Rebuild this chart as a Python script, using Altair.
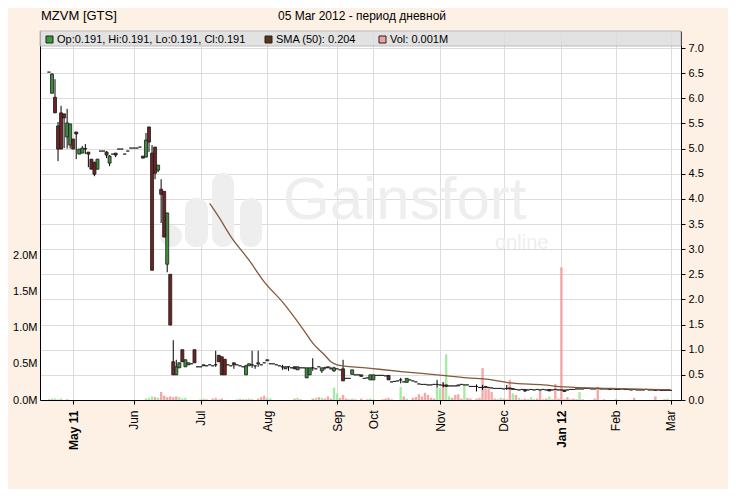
import altair as alt
import pandas as pd

# ---------------- data ----------------
opens = [
 6.52,6.10,6.02,5.45,5.71,5.69,5.23,5.07,5.19,5.33,
 4.89,4.91,5.00,4.93,4.79,4.73,4.59,4.95,4.95,4.93,
 4.71,4.89,4.91,4.99,4.99,4.89,4.95,5.01,5.01,5.01,
 5.03,4.85,4.83,5.43,4.91,5.03,4.57,4.19,4.15,2.70,
 2.50,0.76,0.50,0.64,1.00,0.66,0.70,0.72,1.00,0.66,
 0.66,0.70,0.68,0.70,0.68,0.70,0.89,0.86,0.81,0.70,
 0.68,0.74,0.70,0.68,0.66,0.50,0.68,0.70,0.68,0.72,
 0.70,0.74,0.78,0.72,0.72,0.70,0.68,0.66,0.62,0.66,
 0.64,0.66,0.60,0.64,0.64,0.44,0.50,0.64,0.62,0.66,
 0.58,0.64,0.66,0.62,0.58,0.62,0.60,0.62,0.43,0.43,
 0.51,0.50,0.50,0.50,0.43,0.44,0.40,0.40,0.49,0.49,
 0.49,0.48,0.49,0.36,0.37,0.38,0.40,0.36,0.35,0.40,
 0.38,0.36,0.32,0.31,0.31,0.30,0.30,0.31,0.31,0.30,
 0.29,0.30,0.28,0.28,0.28,0.28,0.31,0.30,0.30,0.27,
 0.27,0.27,0.25,0.25,0.27,0.25,0.24,0.23,0.23,0.23,
 0.22,0.23,0.24,0.21,0.21,0.20,0.21,0.21,0.20,0.21,
 0.20,0.21,0.20,0.21,0.20,0.21,0.20,0.21,0.20,0.20,
 0.20,0.20,0.21,0.21,0.22,0.22,0.22,0.23,0.23,0.22,
 0.22,0.23,0.22,0.22,0.22,0.21,0.22,0.21,0.21,0.22,
 0.21,0.21,0.20,0.21,0.20,0.20,0.20,0.21,0.20,0.20,
 0.19,0.20,0.19,0.19,0.19,0.191]
highs = [
 6.52,6.50,6.38,5.53,5.85,5.69,5.79,5.49,5.19,5.33,
 4.99,5.05,5.09,4.93,4.79,4.73,4.79,4.95,4.95,4.95,
 4.87,4.89,4.91,4.99,4.99,4.89,4.95,5.01,5.01,5.01,
 5.03,4.85,5.31,5.43,5.07,5.03,4.67,4.39,4.15,3.72,
 2.50,1.19,0.80,0.74,1.00,0.80,0.74,0.72,1.00,0.66,
 0.66,0.70,0.68,0.70,0.68,0.98,0.89,0.86,0.81,0.70,
 0.68,0.74,0.70,0.68,0.66,0.70,0.72,0.98,0.68,0.98,
 0.70,0.74,0.80,0.72,0.72,0.70,0.68,0.70,0.66,0.66,
 0.64,0.66,0.66,0.64,0.64,0.64,0.64,0.83,0.62,0.66,
 0.64,0.66,0.66,0.66,0.66,0.62,0.60,0.80,0.43,0.43,
 0.60,0.50,0.50,0.50,0.43,0.44,0.50,0.50,0.49,0.49,
 0.49,0.48,0.49,0.36,0.37,0.38,0.44,0.36,0.43,0.40,
 0.38,0.36,0.32,0.31,0.31,0.30,0.30,0.31,0.40,0.30,
 0.35,0.30,0.28,0.28,0.28,0.30,0.31,0.30,0.30,0.27,
 0.27,0.31,0.25,0.30,0.27,0.25,0.24,0.23,0.23,0.23,
 0.22,0.30,0.24,0.23,0.21,0.20,0.21,0.21,0.20,0.21,
 0.20,0.21,0.20,0.21,0.20,0.21,0.20,0.21,0.20,0.20,
 0.20,0.20,0.21,0.21,0.22,0.22,0.22,0.23,0.23,0.22,
 0.22,0.23,0.22,0.22,0.22,0.21,0.22,0.21,0.21,0.22,
 0.21,0.21,0.20,0.21,0.20,0.20,0.20,0.21,0.20,0.20,
 0.19,0.20,0.19,0.19,0.19,0.191]
lows = [
 6.52,6.10,5.71,4.75,4.99,5.01,5.00,5.00,4.99,4.79,
 4.89,4.91,4.89,4.63,4.59,4.45,4.59,4.95,4.95,4.81,
 4.65,4.89,4.83,4.99,4.99,4.89,4.95,5.01,5.01,5.01,
 5.03,4.81,4.83,4.93,2.58,4.39,4.53,3.52,3.24,2.54,
 1.49,0.50,0.50,0.64,0.76,0.66,0.70,0.72,0.74,0.66,
 0.66,0.68,0.68,0.70,0.68,0.66,0.76,0.50,0.50,0.70,
 0.68,0.62,0.70,0.68,0.66,0.50,0.68,0.64,0.62,0.66,
 0.70,0.74,0.78,0.72,0.72,0.70,0.68,0.60,0.62,0.58,
 0.64,0.62,0.60,0.64,0.64,0.44,0.50,0.58,0.62,0.66,
 0.54,0.60,0.64,0.62,0.56,0.62,0.60,0.38,0.43,0.43,
 0.51,0.50,0.50,0.47,0.43,0.44,0.40,0.40,0.49,0.49,
 0.49,0.48,0.40,0.36,0.37,0.38,0.33,0.36,0.35,0.40,
 0.38,0.36,0.32,0.31,0.31,0.30,0.30,0.31,0.25,0.30,
 0.25,0.27,0.28,0.28,0.28,0.28,0.31,0.30,0.30,0.27,
 0.27,0.17,0.25,0.20,0.25,0.25,0.24,0.23,0.23,0.23,
 0.22,0.20,0.22,0.21,0.21,0.20,0.21,0.16,0.20,0.21,
 0.20,0.21,0.20,0.21,0.20,0.18,0.20,0.21,0.20,0.20,
 0.17,0.20,0.21,0.21,0.22,0.22,0.22,0.23,0.23,0.22,
 0.22,0.23,0.22,0.22,0.22,0.21,0.22,0.21,0.21,0.22,
 0.21,0.21,0.20,0.21,0.20,0.20,0.20,0.21,0.20,0.20,
 0.19,0.20,0.19,0.19,0.19,0.191]
closes = [
 6.52,6.48,5.71,4.99,4.99,5.61,5.51,5.49,4.99,5.29,
 4.99,5.01,4.99,4.89,4.59,4.49,4.79,4.95,4.95,4.87,
 4.85,4.89,4.87,4.99,4.99,4.89,4.95,5.01,5.01,5.01,
 5.03,4.81,5.17,5.13,2.58,4.51,4.67,4.09,3.24,3.72,
 1.49,0.50,0.66,0.74,0.76,0.80,0.74,0.72,0.74,0.66,
 0.66,0.68,0.68,0.70,0.68,0.70,0.76,0.50,0.50,0.70,
 0.68,0.70,0.70,0.68,0.66,0.68,0.72,0.70,0.68,0.74,
 0.70,0.74,0.80,0.72,0.72,0.70,0.68,0.66,0.66,0.66,
 0.64,0.62,0.66,0.64,0.64,0.64,0.64,0.64,0.62,0.66,
 0.64,0.64,0.64,0.62,0.64,0.62,0.60,0.38,0.43,0.43,
 0.60,0.50,0.50,0.47,0.43,0.44,0.50,0.50,0.49,0.49,
 0.49,0.48,0.40,0.36,0.37,0.38,0.40,0.36,0.43,0.40,
 0.38,0.36,0.32,0.31,0.31,0.30,0.30,0.31,0.31,0.30,
 0.29,0.27,0.28,0.28,0.28,0.30,0.31,0.30,0.30,0.27,
 0.27,0.27,0.25,0.25,0.25,0.25,0.24,0.23,0.23,0.23,
 0.22,0.23,0.22,0.23,0.21,0.20,0.21,0.18,0.20,0.21,
 0.20,0.21,0.20,0.21,0.20,0.18,0.20,0.21,0.20,0.20,
 0.17,0.20,0.21,0.21,0.22,0.22,0.22,0.23,0.23,0.22,
 0.22,0.23,0.22,0.22,0.22,0.21,0.22,0.21,0.21,0.22,
 0.21,0.21,0.20,0.21,0.20,0.20,0.20,0.21,0.20,0.20,
 0.19,0.20,0.19,0.19,0.19,0.191]
volumes = [
 0.01,0.02,0.02,0.01,0.02,0.00,0.01,0.00,0.00,0.00,
 0.00,0.00,0.00,0.00,0.00,0.00,0.00,0.00,0.00,0.00,
 0.00,0.00,0.00,0.00,0.00,0.00,0.00,0.00,0.00,0.00,
 0.00,0.00,0.02,0.03,0.05,0.04,0.03,0.11,0.06,0.04,
 0.05,0.04,0.05,0.04,0.02,0.03,0.00,0.00,0.00,0.00,
 0.01,0.02,0.01,0.00,0.02,0.03,0.01,0.02,0.00,0.00,
 0.00,0.00,0.01,0.02,0.01,0.01,0.02,0.01,0.00,0.02,
 0.04,0.06,0.03,0.02,0.00,0.00,0.00,0.00,0.00,0.00,
 0.00,0.02,0.03,0.01,0.00,0.00,0.00,0.02,0.03,0.04,
 0.03,0.02,0.05,0.02,0.17,0.09,0.03,0.07,0.02,0.01,
 0.02,0.01,0.00,0.02,0.00,0.01,0.02,0.01,0.00,0.00,
 0.01,0.02,0.03,0.01,0.00,0.00,0.18,0.05,0.02,0.00,
 0.03,0.04,0.08,0.05,0.10,0.07,0.03,0.02,0.18,0.16,
 0.25,0.63,0.05,0.03,0.07,0.08,0.02,0.20,0.03,0.02,
 0.00,0.02,0.03,0.44,0.16,0.18,0.11,0.02,0.01,0.03,
 0.02,0.01,0.28,0.09,0.07,0.03,0.01,0.02,0.01,0.04,
 0.01,0.02,0.14,0.01,0.02,0.05,0.01,0.22,0.02,1.83,
 0.01,0.04,0.01,0.02,0.01,0.11,0.01,0.00,0.00,0.00,
 0.02,0.18,0.00,0.01,0.00,0.00,0.00,0.01,0.00,0.00,
 0.00,0.00,0.00,0.03,0.00,0.00,0.00,0.00,0.00,0.00,
 0.05,0.00,0.00,0.01,0.02,0.001]
vol_green_idx = [1,2,3,4,32,33,34,36,43,44,45,50,51,56,62,63,66,72,73,82,85,86,
                 88,90,94,95,100,106,107,116,118,128,129,131,132,137,149,153,155,
                 159,165,175,204]
sma_idx = [53,56,60,66,71,77,84,87,91,93,95,106,117,128,138,145,152,163,170,185,205]
sma_val = [3.91,3.64,3.25,2.78,2.35,1.95,1.39,1.13,0.89,0.76,0.70,0.63,0.56,0.50,
           0.44,0.41,0.34,0.30,0.26,0.23,0.204]
month_idx = [8,28,50,72,95,107,129,150,169,187,205]
month_lbl = ["May 11","Jun","Jul","Aug","Sep","Oct","Nov","Dec","Jan 12","Feb","Mar"]
bold_idx = [8,169]
price_ticks = [0.0,0.5,1.0,1.5,2.0,2.5,3.0,3.5,4.0,4.5,5.0,5.5,6.0,6.5,7.0]
vol_ticks = [0.0,0.5,1.0,1.5,2.0]

title_left = "MZVM [GTS]"
title_mid = "05 Mar 2012 - период дневной"
legend_ohlc = "Op:0.191, Hi:0.191, Lo:0.191, Cl:0.191"
legend_sma = "SMA (50): 0.204"
legend_vol = "Vol: 0.001M"
wm_main = "Gainsfort"
wm_sub = "online"

# ---------------- table ----------------
rows = []
for i in range(len(opens)):
    o, h, l, c = opens[i], highs[i], lows[i], closes[i]
    d = "up" if c > o else ("down" if c < o else "flat")
    rows.append({"i": i, "o": o, "h": h, "l": l, "c": c,
                 "blo": min(o, c), "bhi": max(o, c), "dir": d,
                 "vol": volumes[i],
                 "vdir": "g" if i in vol_green_idx else "r"})
df = pd.DataFrame(rows)
sma_df = pd.DataFrame({"i": sma_idx, "sma": sma_val})

FONT = "Liberation Sans"
W, H = 641, 369
PMAX = H / (352 / 7.0)
VMAX = H / 72.5

lbl_expr = "[" + ",".join("'%s'" % s for s in month_lbl) + "][indexof([" + \
    ",".join(str(v) for v in month_idx) + "], datum.value)]"
bold_test = " || ".join("datum.value == %d" % v for v in bold_idx)

xaxis = alt.Axis(values=month_idx, labelExpr=lbl_expr, labelAngle=-90,
                 labelAlign="right", labelBaseline="middle", labelFontSize=12,
                 labelFont=FONT, labelColor="black", labelPadding=6,
                 labelFontWeight={"condition": {"test": bold_test, "value": "bold"},
                                  "value": "normal"},
                 tickSize=4, tickColor="black", domainColor="black",
                 grid=True, gridColor="#dcdcdc", labelOverlap=False, title=None)
xenc = alt.X("i:Q", scale=alt.Scale(domain=[-1.3, 206.8], nice=False, zero=False),
             axis=xaxis)

paxis = alt.Axis(orient="right", values=price_ticks, format=".1f", labelFontSize=11,
                 labelFont=FONT, labelColor="black", tickSize=4, tickColor="black",
                 domainColor="black", grid=True, gridColor="#dcdcdc", labelPadding=3,
                 title=None)
pscale = alt.Scale(domain=[0, PMAX], nice=False, zero=True)
vaxis = alt.Axis(orient="left", values=vol_ticks,
                 labelExpr="format(datum.value, '.1f') + 'M'",
                 labelFontSize=11, labelFont=FONT, labelColor="black",
                 ticks=False, labelPadding=3, domainColor="black",
                 grid=False, title=None)
vscale = alt.Scale(domain=[0, VMAX], nice=False)

base = alt.Chart(df)

vol_g = base.transform_filter("datum.vdir == 'g'").mark_bar(
    size=2.4, color="#98e698", opacity=0.85).encode(
    x=xenc, y=alt.Y("vol:Q", scale=vscale, axis=vaxis))
vol_r = base.transform_filter("datum.vdir == 'r'").mark_bar(
    size=2.4, color="#f29a9a", opacity=0.85).encode(
    x=xenc, y=alt.Y("vol:Q", scale=vscale, axis=vaxis))
vol_layer = alt.layer(vol_g, vol_r)

wicks = base.mark_rule(color="black", strokeWidth=1).encode(
    x=xenc, y=alt.Y("l:Q", scale=pscale, axis=paxis), y2="h:Q")

def bodies(d, fill):
    return base.transform_filter("datum.dir == '%s'" % d).mark_bar(
        size=3, fill=fill, stroke="#1a1a1a", strokeWidth=0.8).encode(
        x=xenc, y=alt.Y("blo:Q", scale=pscale, axis=paxis), y2="bhi:Q")

sma = alt.Chart(sma_df).mark_line(color="#86583a", strokeWidth=1.3,
                                  interpolate="monotone").encode(
    x=xenc, y=alt.Y("sma:Q", scale=pscale, axis=paxis))

one = alt.Data(values=[{}])

def txt(s, x, y, size, align="left", color="black", weight="normal"):
    return alt.Chart(one).mark_text(align=align, baseline="middle", fontSize=size,
                                    font=FONT, color=color, fontWeight=weight).encode(
        x=alt.value(x), y=alt.value(y), text=alt.value(s))

def box(x1, x2, y1, y2, fill, stroke, opacity=1.0, radius=0, sw=1):
    return alt.Chart(one).mark_rect(fill=fill, stroke=stroke, strokeWidth=sw,
                                    opacity=opacity, cornerRadius=radius).encode(
        x=alt.value(x1), x2=alt.value(x2), y=alt.value(y1), y2=alt.value(y2))

WM = "#eeeeee"
watermark = [
    box(120, 142, 194, 216, WM, WM, radius=11, sw=0),
    box(145, 168, 167, 216, WM, WM, radius=11, sw=0),
    box(172, 194, 142, 216, WM, WM, radius=11, sw=0),
    box(200, 222, 167, 216, WM, WM, radius=11, sw=0),
    txt(wm_main, 243, 170, 60, color=WM),
    txt(wm_sub, 455, 212, 20, color=WM),
]

overlay = [
    box(0, W, 0, 15, "#dedede", "#b0b0b0", 0.85),
    box(6, 13, 5, 12, "#3a9a3a", "#222"),
    txt(legend_ohlc, 17, 8.5, 11),
    box(225, 232, 5, 12, "#5a3418", "#222"),
    txt(legend_sma, 236, 8.5, 11),
    box(339, 346, 5, 12, "#f4a0a0", "#222"),
    txt(legend_vol, 350, 8.5, 11),
    txt(title_left, 1, -15, 13),
    txt(title_mid, 322, -15, 12, align="center"),
]

price = alt.layer(wicks, bodies("up", "#3f8f3f"), bodies("down", "#6e2424"),
                  bodies("flat", "#1a1a1a"), sma)
chart = alt.layer(*watermark, vol_layer, price, *overlay).resolve_scale(
    y="independent"
).properties(
    width=W, height=H,
    autosize=alt.AutoSizeParams(type="none"),
    padding={"left": 32, "top": 23, "right": 47, "bottom": 89},
).configure(background="#fdf1e5").configure_view(fill="white", strokeOpacity=0)

chart.save("out.html", embed_options={"renderer": "svg", "actions": False})
